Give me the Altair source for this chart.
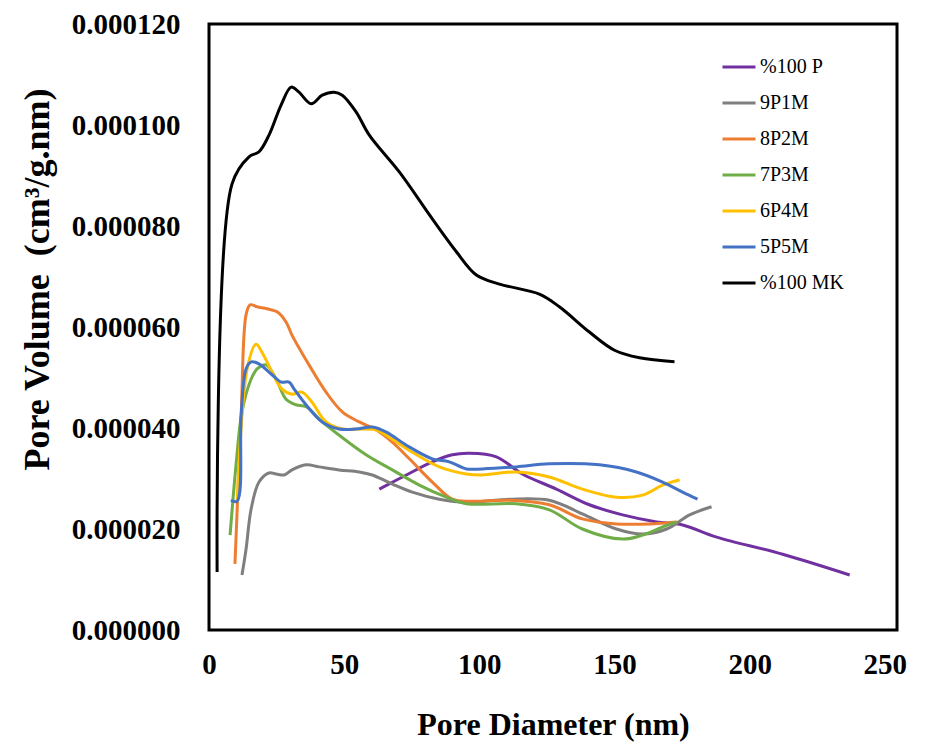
import altair as alt
import pandas as pd

# Pore diameter (nm) and pore volume (x 1e-6 cm3/g.nm)
p100_x = [63.0, 73.0, 82.6, 90.0, 96.3, 106.3, 115.9, 128.5, 140.7, 153.0, 165.6, 175.2, 187.8, 212.2, 237.0]
p100_y = [27.9, 30.7, 33.3, 34.7, 35.0, 34.3, 30.9, 27.9, 24.8, 22.8, 21.4, 20.8, 18.4, 15.0, 10.9]

p9m1_x = [12.2, 13.7, 15.6, 18.5, 22.2, 24.8, 27.8, 30.7, 35.9, 40.7, 48.1, 55.6, 60.4, 67.8, 75.2, 85.2, 95.2, 111.1, 125.9, 138.1, 150.7, 160.4, 169.3, 177.8, 185.9]
p9m1_y = [10.9, 16.0, 24.0, 29.3, 31.1, 30.9, 30.7, 31.7, 32.7, 32.3, 31.7, 31.3, 30.7, 28.9, 27.3, 25.9, 25.3, 25.9, 25.7, 23.0, 20.0, 19.0, 20.0, 22.8, 24.4]

p8m2_x = [9.6, 11.9, 13.7, 15.2, 17.8, 21.5, 25.2, 28.5, 30.7, 37.0, 43.3, 49.3, 55.6, 61.9, 67.8, 74.1, 82.6, 90.0, 97.4, 111.1, 125.9, 138.1, 150.7, 163.0, 173.0]
p8m2_y = [13.1, 42.6, 62.4, 64.4, 64.0, 63.6, 63.0, 61.0, 58.4, 52.5, 47.1, 43.2, 41.2, 39.6, 37.2, 33.9, 29.3, 25.9, 25.5, 25.7, 24.8, 22.0, 21.0, 21.0, 21.4]

p7m3_x = [7.8, 10.0, 12.2, 15.6, 17.8, 21.1, 24.8, 28.5, 32.2, 35.9, 41.9, 48.1, 58.1, 67.8, 77.8, 87.8, 95.2, 113.7, 125.9, 138.1, 153.0, 160.4, 167.8, 173.0]
p7m3_y = [18.8, 32.7, 43.2, 49.7, 51.7, 52.5, 49.7, 45.7, 44.6, 44.2, 41.2, 38.6, 34.7, 31.7, 28.7, 26.3, 25.0, 25.0, 23.8, 20.0, 18.0, 18.8, 20.4, 21.4]

p6m4_x = [10.4, 14.1, 17.4, 19.6, 23.3, 27.0, 30.7, 34.4, 38.1, 43.3, 49.3, 55.6, 61.9, 67.8, 75.2, 85.2, 95.2, 101.1, 113.7, 125.9, 138.1, 150.7, 160.4, 167.8, 174.1]
p6m4_y = [25.3, 51.7, 56.6, 55.0, 51.1, 47.7, 46.7, 47.1, 45.1, 41.2, 39.8, 39.8, 39.6, 37.8, 35.2, 32.3, 30.9, 30.7, 31.3, 30.3, 27.9, 26.3, 26.7, 28.7, 29.7]

p5m5_x = [8.1, 10.4, 11.9, 13.7, 15.6, 18.5, 23.0, 26.7, 29.6, 31.5, 35.9, 41.9, 48.1, 54.4, 60.4, 65.6, 73.0, 82.6, 88.9, 95.2, 101.1, 113.7, 125.9, 144.4, 158.1, 167.8, 175.2, 180.7]
p5m5_y = [25.7, 25.5, 42.6, 51.7, 53.1, 52.7, 50.7, 49.1, 49.1, 47.7, 44.6, 41.2, 39.8, 39.8, 40.2, 39.2, 36.6, 33.9, 33.3, 31.9, 31.9, 32.3, 32.9, 32.7, 31.3, 29.3, 27.3, 25.9]

mk100_x = [3.0, 8.5, 14.8, 18.5, 22.2, 26.7, 30.4, 33.3, 37.8, 41.9, 46.3, 49.3, 54.4, 59.3, 70.4, 82.6, 91.5, 98.9, 107.4, 122.2, 129.6, 140.7, 150.0, 159.3, 172.2]
mk100_y = [11.5, 88.3, 93.7, 94.7, 98.0, 104.0, 107.5, 106.5, 104.2, 105.9, 106.5, 105.9, 102.6, 98.0, 90.7, 81.4, 74.9, 70.3, 68.5, 66.5, 64.0, 59.0, 55.4, 53.9, 53.1]

series_names = ["%100 P", "9P1M", "8P2M", "7P3M", "6P4M", "5P5M", "%100 MK"]
series_colors = ["#7030A0", "#7F7F7F", "#ED7D31", "#70AD47", "#FFC000", "#4472C4", "#000000"]
series_data = [(p100_x, p100_y), (p9m1_x, p9m1_y), (p8m2_x, p8m2_y), (p7m3_x, p7m3_y),
               (p6m4_x, p6m4_y), (p5m5_x, p5m5_y), (mk100_x, mk100_y)]
x_ticks = [0, 50, 100, 150, 200, 250]
y_ticks = [0, 0.00002, 0.00004, 0.00006, 0.00008, 0.0001, 0.00012]

rows = []
for name, (xs, ys) in zip(series_names, series_data):
    for i, (xv, yv) in enumerate(zip(xs, ys)):
        rows.append({"series": name, "d": xv, "v": yv * 1e-6, "i": i})
df = pd.DataFrame(rows)

FONT = "Liberation Serif"

chart = alt.Chart(df).mark_line(strokeWidth=3, interpolate="catmull-rom").encode(
    x=alt.X("d:Q", scale=alt.Scale(domain=[0, 254.5], nice=False, zero=False),
            axis=alt.Axis(values=x_ticks, title="Pore Diameter (nm)", grid=False, ticks=False,
                          domain=False, labelFont=FONT, labelFontSize=29, labelFontWeight="bold",
                          labelColor="black", labelPadding=20, titleFont=FONT, titleFontSize=32,
                          titleFontWeight="bold", titleColor="black", titlePadding=30,
                          labelFlush=False)),
    y=alt.Y("v:Q", scale=alt.Scale(domain=[0, 0.00012], nice=False),
            axis=alt.Axis(values=y_ticks, format=".6f", title="Pore Volume\u00a0\u00a0(cm³/g.nm)",
                          grid=False, ticks=False, domain=False, labelFont=FONT, labelFontSize=29,
                          labelFontWeight="bold", labelColor="black", labelPadding=29,
                          titleFont=FONT, titleFontSize=36, titleFontWeight="bold",
                          titleColor="black", titleX=-172, titleY=255, titleBaseline="middle",
                          labelFlush=False)),
    color=alt.Color("series:N", scale=alt.Scale(domain=series_names, range=series_colors),
                    legend=alt.Legend(title=None, orient="none", legendX=512, legendY=25,
                                      symbolType="stroke", symbolStrokeWidth=3, symbolSize=1089,
                                      labelFont=FONT, labelFontSize=20, labelColor="black",
                                      labelOffset=3, rowPadding=8)),
    order="i:Q",
).properties(
    width=688, height=606,
    padding={"left": 10, "top": 2, "right": 5, "bottom": 5},
    background="white",
).configure_view(
    stroke="black", strokeWidth=3
)

chart.save("out.html", embed_options={"renderer": "svg", "actions": False})
